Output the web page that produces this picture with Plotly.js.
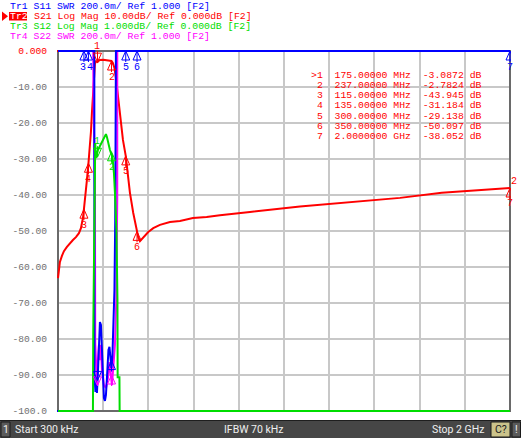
<!DOCTYPE html>
<html><head><meta charset="utf-8">
<script src="https://cdn.plot.ly/plotly-3.0.1.min.js"></script>
<style>html,body{margin:0;padding:0;background:#fff;overflow:hidden}#chart{width:521px;height:438px}</style>
</head><body><div id="chart"></div>
<script>
// ---------------- data ----------------
// S21 (Tr2, Log Mag, dB) - frequency in MHz
const s21Freq = [0.3, 4.4, 8.8, 17.7, 26.5, 39.8, 53.1, 66.4, 79.6, 92.9, 101.8, 110.6, 115, 121.7, 128.3, 135, 141.6, 146, 150.4, 154.9, 159.3, 163.7, 168.1, 175, 178.3, 185.8, 200.4, 215.5, 226, 237, 243, 250, 256.6, 263, 270, 278.8, 287.6, 300, 306.6, 318.6, 333.2, 350, 355.3, 362.8, 377.4, 399.6, 421.7, 451.3, 495.6, 539.8, 597.3, 658, 716.8, 790.7, 849.6, 1070.8, 1292, 1513.3, 1698, 1810, 1867, 1956, 2000];
const s21dB = [-63.1, -60.3, -58.6, -56.9, -55.6, -54.4, -53.3, -52.5, -51.7, -50.6, -49.2, -46.4, -43.9, -40.3, -35.8, -31.2, -26.9, -22.5, -17.2, -12.2, -6.7, -3.6, -2.9, -3.09, -2.8, -2.5, -2.45, -2.55, -2.65, -2.78, -3.3, -4.7, -7.5, -11.4, -15.0, -19.7, -24.7, -29.14, -33.3, -39.4, -45.0, -50.1, -51.7, -52.8, -51.7, -50.3, -49.2, -48.3, -47.5, -47.2, -46.4, -46.1, -45.6, -45.0, -44.7, -43.2, -41.9, -40.8, -39.4, -38.9, -38.6, -38.2, -38.05];

// S11 (Tr1, SWR) - values as displayed (clamped at 3.0 on screen)
const s11Freq = [0.3, 161, 161.5, 166, 169.5, 172.6, 177, 181.4, 185.8, 190.3, 194.7, 199.1, 203.5, 208, 212.4, 216.8, 223.5, 227.9, 232.3, 236.7, 241.2, 245.6, 250, 253.5, 255.8, 256.6, 2000];
const s11Swr = [3.0, 3.0, 1.2, 1.106, 1.144, 1.1, 1.217, 1.394, 1.494, 1.478, 1.339, 1.144, 1.072, 1.056, 1.089, 1.183, 1.339, 1.356, 1.306, 1.239, 1.311, 1.45, 1.672, 2.061, 2.506, 3.0, 3.0];

// S12 (Tr3, Log Mag 1 dB/div) - clamped at -10 dB on screen
const s12Freq = [0.3, 154.9, 156.2, 161.5, 163.7, 165, 168.1, 172.6, 177, 185.8, 194.7, 203.5, 208, 212.4, 216.8, 221.2, 230.1, 234.5, 238.9, 243.4, 247.8, 252.2, 258.8, 263.3, 264.2, 272.1, 273, 2000];
const s12dB = [-10, -10, -7.83, -5.25, -3.92, -2.56, -2.97, -2.81, -2.75, -2.64, -2.53, -2.39, -2.33, -2.31, -2.39, -2.53, -2.75, -2.83, -2.89, -3.08, -3.39, -3.94, -4.97, -6.92, -9.06, -9.06, -10, -10];

// S22 (Tr4, SWR)
const s22Freq = [0.3, 156.2, 157, 161.5, 163.7, 165, 168.1, 172.6, 177, 181.4, 185.8, 190.3, 194.7, 203.5, 212.4, 221.2, 227.9, 232.3, 238.9, 243.4, 247.8, 252.2, 258, 262.4, 262.5, 2000];
const s22Swr = [3.0, 3.0, 2.783, 2.394, 2.217, 1.378, 1.228, 1.144, 1.283, 1.367, 1.283, 1.367, 1.228, 1.144, 1.128, 1.183, 1.272, 1.2, 1.144, 1.217, 1.283, 1.367, 1.617, 2.172, 3.0, 3.0];

// markers
const markerLabels = ['1', '2', '3', '4', '5', '6', '7'];
const markerFreq = [175, 237, 115, 135, 300, 350, 2000];
const markerS21 = [-3.0872, -2.7824, -43.945, -31.184, -29.138, -50.097, -38.052];
const markerS11 = [1.17, 1.28, 3.0, 3.0, 3.0, 3.0, 3.0];
const markerS12 = [-2.95, -2.8, -10, -10, -10, -10, -10];
const markerS22 = [1.14, 1.2, 3.0, 3.0, 3.0, 3.0, 3.0];
const activeMarker = 0;

// axis ticks (Tr2 scale)
const yTickValues = [0, -10, -20, -30, -40, -50, -60, -70, -80, -90, -100];
const yTickLabels = ['0.000', '-10.00', '-20.00', '-30.00', '-40.00', '-50.00', '-60.00', '-70.00', '-80.00', '-90.00', '-100.0'];

// header / status texts
const trNames = ['Tr1', 'Tr2', 'Tr3', 'Tr4'];
const trParams = ['S11', 'S21', 'S12', 'S22'];
const trFormats = ['SWR 200.0m/ Ref 1.000 [F2]', 'Log Mag 10.00dB/ Ref 0.000dB [F2]', 'Log Mag 1.000dB/ Ref 0.000dB [F2]', 'SWR 200.0m/ Ref 1.000 [F2]'];
const statusTexts = ['Start 300 kHz', 'IFBW 70 kHz', 'Stop 2 GHz'];
const channelLabel = '1';
const calLabel = 'C?';

// ---------------- styling / geometry ----------------
const C_BLUE = '#0000ff', C_RED = '#ff0000', C_GREEN = '#00dd00', C_MAG = '#ff00ff';
const MONO = 'Liberation Mono, DejaVu Sans Mono, monospace';
const W = 521, H = 438;
const M = {l: 57, r: 10, t: 50, b: 26};
const PW = W - M.l - M.r, PH = H - M.t - M.b;
const px = v => (v - M.l) / PW;
const py = v => (H - M.b - v) / PH;
const fStart = 0.3, fStop = 2000;
const mhzPerPx = (fStop - fStart) / 452;
const dbPerPx = 100 / 360, swrPerPx = 2 / 360, s12PerPx = 10 / 360;
const nb = s => s.replace(/ /g, '\u00a0');

const traces = [
  {x: s22Freq, y: s22Swr, yaxis: 'y2', mode: 'lines', line: {color: C_MAG, width: 2}},
  {x: s12Freq, y: s12dB, yaxis: 'y3', mode: 'lines', line: {color: C_GREEN, width: 2}},
  {x: s21Freq, y: s21dB, yaxis: 'y', mode: 'lines', line: {color: C_RED, width: 2}},
  {x: s11Freq, y: s11Swr, yaxis: 'y2', mode: 'lines', line: {color: C_BLUE, width: 2}}
];

const shapes = [];
const annotations = [];

// plot border
shapes.push({type: 'rect', layer: 'between', xref: 'x', yref: 'y', x0: fStart, x1: fStop, y0: -100, y1: 0,
  line: {color: '#6a6a6a', width: 2}});

function tri(xa, ya, yref, path, color, filled) {
  shapes.push({type: 'path', xref: 'x', yref: yref, xsizemode: 'pixel', ysizemode: 'pixel',
    xanchor: xa, yanchor: ya, path: path, line: {color: color, width: 1},
    fillcolor: filled ? color : 'rgba(0,0,0,0)'});
}
// reference level arrows
tri(fStart, 0, 'y', 'M0,0 L-8,6 L-8,-6 Z', C_RED, true);
tri(fStart, 1.0, 'y2', 'M0,0 L-8,6 L-8,-6 Z', C_BLUE, true);
tri(fStop, 0, 'y', 'M1,0 L10,6 L10,-6 Z', C_RED, true);
tri(fStop, 1.0, 'y2', 'M1,0 L10,6 L10,-6 Z', C_BLUE, true);

// trace markers
const upPath = 'M0,0 L-4,-9 L4,-9 Z M0,0 L0,-11';
const downPath = 'M0,0 L-4,9 L4,9 Z M0,0 L0,11';
function addMarkers(vals, yref, color, skip, labelSkip) {
  markerFreq.forEach((f, i) => {
    if (skip && skip(i)) return;
    const active = i === activeMarker;
    tri(f, vals[i], yref, active ? downPath : upPath, color, false);
    if (labelSkip && labelSkip(i)) return;
    // nudge labels apart when two markers sit at the same level a few pixels apart
    let shift = 0;
    markerFreq.forEach((g, j) => {
      if (j === i || vals[j] !== vals[i] || (skip && skip(j))) return;
      const d = (f - g) / mhzPerPx;
      if (Math.abs(d) < 7) shift += Math.sign(d) * (7 - Math.abs(d)) / 2;
    });
    annotations.push({x: f, y: vals[i], xref: 'x', yref: yref, text: markerLabels[i], showarrow: false,
      xanchor: 'center', yanchor: 'middle', xshift: shift, yshift: active ? 16 : -16,
      font: {family: MONO, size: 10, color: color}});
  });
}
addMarkers(markerS22, 'y2', C_MAG, i => i >= 2, i => i < 2);
addMarkers(markerS11, 'y2', C_BLUE, null, i => i < 2);
addMarkers(markerS12, 'y3', C_GREEN, i => i >= 2, null);
addMarkers(markerS21, 'y', C_RED, null, null);
// trace number tag at right end of Tr2
annotations.push({x: fStop, y: s21dB[s21dB.length - 1], xref: 'x', yref: 'y', text: '2', showarrow: false,
  xanchor: 'left', yanchor: 'middle', xshift: -1, yshift: 6, font: {family: MONO, size: 10, color: C_RED}});

// clamped S12 markers at bottom and stimulus indicators of the active trace
markerFreq.forEach((f, i) => {
  if (i >= 2) tri(f, markerS12[i], 'y3', 'M0,-1 L-4,-8 L4,-8 Z M-3,-10 L3,-10 M0,-1 L0,-10', C_GREEN, false);
});
markerFreq.forEach((f, i) => {
  tri(f, -100, 'y', 'M0,-1 L-5.5,-8 L5.5,-8 Z', C_RED, i === activeMarker);
});

// header
const trColors = [C_BLUE, C_RED, C_GREEN, C_MAG];
function paperText(x, y, text, font, xanchor) {
  annotations.push({x: px(x), y: py(y), xref: 'paper', yref: 'paper', xanchor: xanchor || 'left', yanchor: 'middle',
    text: text, showarrow: false, borderpad: 0, font: font});
}
trNames.forEach((n, i) => {
  const yc = 6.3 + i * 10;
  const font = {family: MONO, size: 9.8, color: trColors[i]};
  if (i === 1) {
    shapes.push({type: 'rect', xref: 'paper', yref: 'paper', x0: px(9), x1: px(27), y0: py(20.5), y1: py(12),
      fillcolor: C_RED, line: {width: 0}});
    shapes.push({type: 'path', xref: 'paper', yref: 'paper',
      path: `M${px(2)},${py(11.5)} L${px(8)},${py(16.3)} L${px(2)},${py(21)} Z`, fillcolor: C_RED, line: {width: 0}});
    paperText(9, yc, n, {family: MONO, size: 9.8, color: '#ffffff'});
    paperText(9 + 4 * 5.9, yc, nb(trParams[i] + ' ' + trFormats[i]), font);
  } else {
    paperText(9, yc, nb(n + ' ' + trParams[i] + ' ' + trFormats[i]), font);
  }
});

// marker table
function fmtFreq(f) { return f >= 1000 ? (f / 1000).toFixed(7) + ' GHz' : f.toFixed(5) + ' MHz'; }
markerFreq.forEach((f, i) => {
  const pre = (i === activeMarker ? '>' : ' ') + markerLabels[i];
  const txt = pre + '  ' + fmtFreq(f) + '  ' + markerS21[i].toPrecision(5) + ' dB';
  paperText(310, 75 + i * 10.3, nb(txt), {family: MONO, size: 9.8, color: C_RED});
});

// status bar
function pRect(x0, x1, y0, y1, fill, line) {
  shapes.push({type: 'rect', xref: 'paper', yref: 'paper', x0: px(x0), x1: px(x1), y0: py(y1), y1: py(y0),
    fillcolor: fill, line: line || {width: 0}});
}
pRect(0, W, 420, H, '#464646');
pRect(0, W, 420, 421, '#1e1e1e');
pRect(1, 10, 422, 437, '#5a5a5a', {color: '#1a1a1a', width: 1});
pRect(491, 510, 422, 437, '#cbc38a', {color: '#1a1a1a', width: 1});
pRect(512, 520.5, 422, 437, '#5a5a5a', {color: '#1a1a1a', width: 1});
const SB = {family: 'Roboto, DejaVu Sans, sans-serif', size: 10.5, color: '#f0f0f0'};
paperText(5.5, 429.5, channelLabel, SB, 'center');
paperText(14, 429.5, statusTexts[0], SB, 'left');
paperText(254, 429.5, statusTexts[1], SB, 'center');
paperText(485, 429.5, statusTexts[2], SB, 'right');
paperText(500.5, 429.5, calLabel, {family: SB.family, size: 10.5, color: '#202020'}, 'center');
paperText(516.2, 429.5, '!', SB, 'center');

const tickText = yTickLabels.map((t, i) => i === 0 ? `<span style="color:${C_RED}">${t}</span>` : t);

const layout = {
  width: W, height: H, margin: M, showlegend: false,
  paper_bgcolor: '#ffffff', plot_bgcolor: '#ffffff',
  xaxis: {range: [fStart - mhzPerPx, fStop + mhzPerPx], autorange: false, tick0: fStart, dtick: (fStop - fStart) / 10,
    showgrid: true, gridcolor: '#c8c8c8', gridwidth: 2, zeroline: false, showticklabels: false, ticks: '', showline: false},
  yaxis: {range: [-100 - dbPerPx, dbPerPx], autorange: false, tickvals: yTickValues, ticktext: tickText,
    showgrid: true, gridcolor: '#c8c8c8', gridwidth: 2, zeroline: false, ticks: '', showline: false,
    ticklabelstandoff: 9, automargin: false,
    tickfont: {family: MONO, size: 9.6, color: '#707070'}},
  yaxis2: {overlaying: 'y', range: [1 - swrPerPx, 3 + swrPerPx], autorange: false, visible: false},
  yaxis3: {overlaying: 'y', range: [-10 - s12PerPx, s12PerPx], autorange: false, visible: false},
  shapes: shapes, annotations: annotations
};

Plotly.newPlot('chart', traces, layout, {staticPlot: true, displayModeBar: false});
</script></body></html>
